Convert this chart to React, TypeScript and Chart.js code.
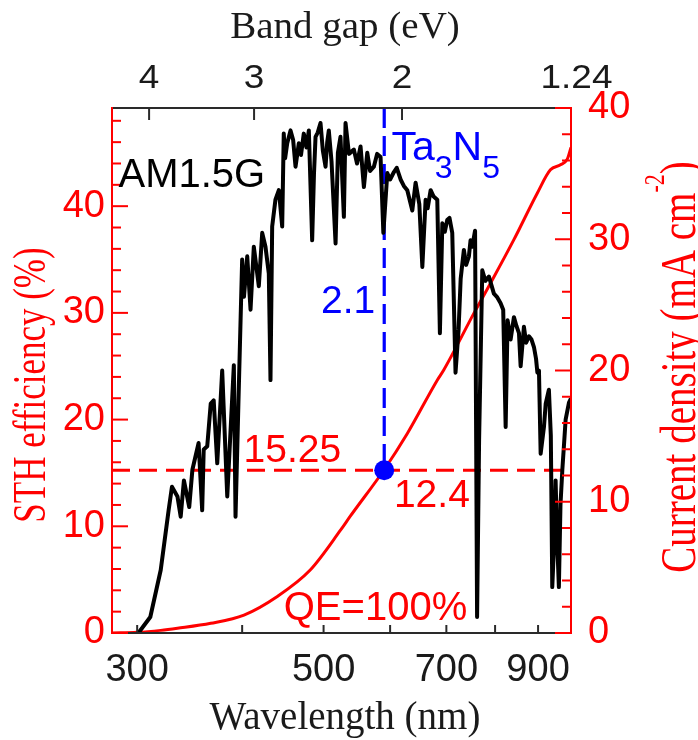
import React, { useEffect, useRef } from "react";
import { Chart, registerables } from "chart.js";

Chart.register(...registerables);

// ---- data ----
const SPEC_WL = [301, 311, 320, 327, 330, 335, 338, 341, 346, 349, 355, 358.5, 360, 363.5, 367, 370, 373.6, 378.7, 384, 387.5, 391, 392.8, 396, 400, 402, 405.6, 409.3, 413, 418.7, 422.6, 426.4, 430.3, 432.3, 434.3, 438.2, 442.3, 446.4, 448.3, 450, 452.6, 456.7, 460, 463, 467.2, 470, 473.6, 477, 480.2, 484.6, 487, 489.1, 492, 495.8, 499, 502.7, 505, 507.2, 511, 516.7, 520, 523.7, 528.6, 531, 536, 543.3, 548, 553.3, 558.4, 563.6, 568, 573.9, 579, 584.5, 589, 595.4, 600, 606.3, 611, 617.5, 623, 628.9, 637.6, 643.4, 650, 655.4, 661.3, 665, 670.5, 676, 682.8, 687.7, 692.3, 697, 701.6, 706, 711.4, 717.8, 723.8, 728, 734.4, 739, 744.6, 748, 751.5, 757.3, 761.5, 765.7, 772.4, 779, 786.6, 792, 797.4, 804, 812.2, 818, 823.5, 827.9, 834.8, 842.4, 848, 854.1, 858, 865.8, 871, 877.8, 884, 889.9, 895, 898.3, 902.2, 906.4, 914.6, 919, 927.1, 932, 935.7, 940, 944.3, 948, 952.8, 957, 961.9, 966, 970.6, 979.5, 985];
const SPEC_VAL = [0, 1.5, 5.9, 11.5, 13.7, 12.8, 10.9, 14.3, 11.8, 15.3, 17.8, 11.5, 17.2, 17.5, 21.5, 21.8, 15.9, 24.6, 12.8, 19.0, 25.1, 10.9, 21.8, 35.0, 31.5, 35.3, 30.3, 36.2, 32.5, 37.5, 36.2, 33.7, 23.7, 38.1, 40.6, 41.5, 38.1, 46.8, 44.5, 45.9, 47.1, 46.2, 43.7, 45.9, 44.8, 46.8, 45.5, 47.1, 36.8, 43.0, 46.5, 46.9, 47.8, 45.2, 43.7, 46.0, 47.1, 44.2, 36.5, 45.0, 46.5, 39.0, 47.8, 44.9, 45.3, 44.0, 45.6, 41.8, 45.0, 43.3, 43.7, 44.9, 44.6, 37.5, 43.1, 42.5, 43.2, 43.6, 42.5, 41.9, 41.5, 39.6, 42.2, 40.2, 34.3, 40.6, 39.8, 41.5, 40.9, 40.6, 28.1, 38.4, 37.6, 38.7, 38.9, 37.5, 24.4, 28.4, 33.2, 35.9, 34.5, 35.3, 36.8, 36.2, 37.7, 1.5, 18.1, 34.0, 33.0, 33.4, 32.6, 31.8, 31.5, 30.9, 30.3, 19.3, 29.3, 27.5, 29.6, 28.8, 28.1, 25.0, 28.7, 27.2, 27.8, 27.5, 26.8, 25.7, 24.4, 24.6, 16.8, 19.3, 21.5, 22.8, 18.5, 4.3, 8.0, 14.3, 9.0, 4.3, 12.0, 15.3, 17.5, 20.0, 21.6, 22.0];

const J_WL = [280, 300, 320, 335, 367, 402, 440, 482, 524, 538, 590, 629, 683, 695, 755, 790, 842, 898, 931, 957, 975, 985];
const J_VAL = [0, 0.05, 0.2, 0.36, 0.74, 1.37, 2.77, 4.8, 7.85, 8.9, 12.42, 15.2, 19.28, 20.04, 24.37, 26.65, 29.95, 33.51, 35.29, 35.67, 36.1, 37.0];

const X_MIN = 280;
const X_MAX = 985;
const STH_MAX = 49.2;
const J_MAX = 40;
const X_TICKS = [300, 400, 500, 600, 700, 800, 900];
const X_LABELED = [300, 500, 700, 900];
const EV_TICKS = [4, 3, 2, 1.24];
const EV_LABELS = ["4", "3", "2", "1.24"];
const LEFT_TICKS = [0, 10, 20, 30, 40];
const RIGHT_TICKS = [0, 10, 20, 30, 40];
const MINOR_STEP = 2;
const HC = 1239.84;
const GAP_EV = 2.1;
const J_POINT = 12.4;
const STH_POINT = 15.25;

const SANS = '"Liberation Sans", Arial, sans-serif';
const SERIF = '"Liberation Serif", "Times New Roman", serif';
const RED = "#ff0000";
const BLUE = "#0000ff";
const INK = "#1a1a1a";

function drawText(ctx: CanvasRenderingContext2D, s: string, x: number, y: number, font: string, color: string, align: CanvasTextAlign = "left", sy = 1) {
  ctx.save();
  ctx.font = font;
  ctx.fillStyle = color;
  ctx.textAlign = align;
  ctx.textBaseline = "alphabetic";
  ctx.translate(x, y);
  ctx.scale(1, sy);
  ctx.fillText(s, 0, 0);
  ctx.restore();
}

type Seg = { t: string; font: string; dy: number };

function drawSegs(ctx: CanvasRenderingContext2D, segs: Seg[], x: number, y: number, color: string) {
  ctx.save();
  ctx.fillStyle = color;
  ctx.textBaseline = "alphabetic";
  ctx.textAlign = "left";
  let cx = x;
  for (const s of segs) {
    ctx.font = s.font;
    ctx.fillText(s.t, cx, y + s.dy);
    cx += ctx.measureText(s.t).width;
  }
  ctx.restore();
}

function drawVertical(ctx: CanvasRenderingContext2D, segs: Seg[], xBase: number, cy: number, color: string, stretch: number) {
  ctx.save();
  ctx.translate(xBase, cy);
  ctx.rotate(-Math.PI / 2);
  ctx.scale(1, stretch);
  ctx.fillStyle = color;
  ctx.textBaseline = "alphabetic";
  ctx.textAlign = "left";
  let total = 0;
  for (const s of segs) {
    ctx.font = s.font;
    total += ctx.measureText(s.t).width;
  }
  let cx = -total / 2;
  for (const s of segs) {
    ctx.font = s.font;
    ctx.fillText(s.t, cx, s.dy);
    cx += ctx.measureText(s.t).width;
  }
  ctx.restore();
}

const decor = {
  id: "decor",
  afterDatasetsDraw(chart: any) {
    const { ctx, chartArea } = chart;
    const { left, right, top, bottom } = chartArea;
    const xs = chart.scales.x;
    const yl = chart.scales.y;
    const yr = chart.scales.y2;
    const seg = (x1: number, y1: number, x2: number, y2: number) => {
      ctx.beginPath();
      ctx.moveTo(x1, y1);
      ctx.lineTo(x2, y2);
      ctx.stroke();
    };
    ctx.save();
    ctx.lineCap = "butt";
    ctx.lineWidth = 2;
    // frame
    ctx.strokeStyle = "#2a2a2a";
    seg(left, top, right, top);
    seg(left, bottom, right, bottom);
    ctx.strokeStyle = RED;
    seg(left, top - 1, left, bottom + 1);
    seg(right, top - 1, right, bottom + 1);
    // bottom ticks (inward)
    ctx.strokeStyle = "#2a2a2a";
    for (const v of X_TICKS) {
      const px = xs.getPixelForValue(v);
      seg(px, bottom, px, bottom - 8);
    }
    // top ticks (band gap)
    for (const ev of EV_TICKS) {
      const wl = HC / ev;
      if (wl > X_MAX) continue;
      const px = xs.getPixelForValue(wl);
      seg(px, top, px, top + 12);
    }
    // left & right ticks
    ctx.strokeStyle = RED;
    for (let v = 0; v <= STH_MAX + 1e-6; v += MINOR_STEP) {
      const py = yl.getPixelForValue(v);
      const major = LEFT_TICKS.includes(v);
      seg(left, py, left + (major ? 16 : 9), py);
    }
    for (let v = 0; v <= J_MAX + 1e-6; v += MINOR_STEP) {
      const py = yr.getPixelForValue(v);
      const major = RIGHT_TICKS.includes(v);
      seg(right, py, right - (major ? 16 : 9), py);
    }
    ctx.restore();

    // annotations
    const gapWl = HC / GAP_EV;
    drawText(ctx, "AM1.5G", xs.getPixelForValue(285), yl.getPixelForValue(41.8), `40px ${SANS}`, "#000");
    const taX = xs.getPixelForValue(602.3);
    const taY = yl.getPixelForValue(44.3);
    drawSegs(ctx, [
      { t: "Ta", font: `41px ${SANS}`, dy: 0 },
      { t: "3", font: `32px ${SANS}`, dy: 18 },
      { t: "N", font: `41px ${SANS}`, dy: 0 },
      { t: "5", font: `32px ${SANS}`, dy: 18 },
    ], taX, taY, BLUE);
    drawText(ctx, String(GAP_EV), xs.getPixelForValue(gapWl) - 9, yl.getPixelForValue(30.0), `39px ${SANS}`, BLUE, "right");
    drawText(ctx, String(STH_POINT), xs.getPixelForValue(401.5), yl.getPixelForValue(16.05), `39px ${SANS}`, RED);
    drawText(ctx, String(J_POINT), xs.getPixelForValue(606.3), yl.getPixelForValue(11.84), `39px ${SANS}`, RED);
    drawText(ctx, "QE=100%", xs.getPixelForValue(448.3), yl.getPixelForValue(1.22), `40px ${SANS}`, RED);
  },
  afterDraw(chart: any) {
    const { ctx } = chart;
    const xs = chart.scales.x;
    // top band-gap labels
    EV_TICKS.forEach((ev, i) => {
      const px = xs.getPixelForValue(HC / ev);
      drawText(ctx, EV_LABELS[i], px, 88, `37px ${SANS}`, INK, "center", 0.88);
    });
    drawText(ctx, "Band gap (eV)", 345, 38, `39px ${SERIF}`, INK, "center", 0.95);
    drawText(ctx, "Wavelength (nm)", 345, 729, `39px ${SERIF}`, INK, "center");
    drawVertical(ctx, [{ t: "STH efficiency (%)", font: `35px ${SERIF}`, dy: 0 }], 45, 385, RED, 1.3);
    drawVertical(ctx, [
      { t: "Current density (mA cm", font: `39px ${SERIF}`, dy: 0 },
      { t: "-2", font: `22px ${SERIF}`, dy: -24 },
      { t: ")", font: `39px ${SERIF}`, dy: 0 },
    ], 695, 367, RED, 1.3);
  },
};

export default function App() {
  const ref = useRef<HTMLCanvasElement>(null);
  useEffect(() => {
    const canvas = ref.current;
    if (!canvas) return;
    const gapWl = HC / GAP_EV;
    const tickFont = { family: SANS, size: 38 };
    const chart = new Chart(canvas, {
      type: "scatter",
      data: {
        datasets: [
          {
            label: "point",
            data: [{ x: gapWl, y: J_POINT }],
            yAxisID: "y2",
            showLine: false,
            pointRadius: 10,
            pointBackgroundColor: BLUE,
            pointBorderColor: BLUE,
            pointBorderWidth: 0,
            order: 0,
          },
          {
            label: "AM1.5G",
            data: SPEC_WL.map((x, i) => ({ x, y: SPEC_VAL[i] })),
            yAxisID: "y",
            showLine: true,
            borderColor: "#000",
            borderWidth: 4,
            pointRadius: 0,
            tension: 0,
            borderJoinStyle: "round",
            order: 1,
          },
          {
            label: "J",
            data: J_WL.map((x, i) => ({ x, y: J_VAL[i] })),
            yAxisID: "y2",
            showLine: true,
            borderColor: RED,
            borderWidth: 3,
            pointRadius: 0,
            cubicInterpolationMode: "monotone",
            order: 2,
          },
          {
            label: "hline",
            data: [{ x: X_MIN, y: STH_POINT }, { x: X_MAX, y: STH_POINT }],
            yAxisID: "y",
            showLine: true,
            borderColor: RED,
            borderWidth: 3.2,
            borderDash: [18, 9],
            pointRadius: 0,
            order: 3,
          },
          {
            label: "vline",
            data: [{ x: gapWl, y: STH_MAX }, { x: gapWl, y: STH_POINT }],
            yAxisID: "y",
            showLine: true,
            borderColor: BLUE,
            borderWidth: 3.2,
            borderDash: [20, 8],
            pointRadius: 0,
            order: 3,
          },
        ],
      },
      options: {
        responsive: false,
        animation: false,
        devicePixelRatio: 1,
        layout: { padding: { top: 108, left: 0, right: 0, bottom: 0 } },
        plugins: { legend: { display: false }, tooltip: { enabled: false } },
        scales: {
          x: {
            type: "logarithmic",
            position: "bottom",
            min: X_MIN,
            max: X_MAX,
            grid: { display: false, drawTicks: false },
            border: { display: false },
            afterBuildTicks: (s: any) => {
              s.ticks = X_LABELED.map((v) => ({ value: v }));
            },
            afterFit: (s: any) => {
              s.height = 107;
            },
            ticks: {
              autoSkip: false,
              maxRotation: 0,
              color: INK,
              font: tickFont,
              padding: 15,
              callback: (v: any) => String(v),
            },
          },
          y: {
            type: "linear",
            position: "left",
            min: 0,
            max: STH_MAX,
            grid: { display: false, drawTicks: false },
            border: { display: false },
            afterBuildTicks: (s: any) => {
              s.ticks = LEFT_TICKS.map((v) => ({ value: v }));
            },
            afterFit: (s: any) => {
              s.width = 112;
            },
            ticks: { color: RED, font: tickFont, padding: 7 },
          },
          y2: {
            type: "linear",
            position: "right",
            min: 0,
            max: J_MAX,
            grid: { display: false, drawTicks: false },
            border: { display: false },
            afterBuildTicks: (s: any) => {
              s.ticks = RIGHT_TICKS.map((v) => ({ value: v }));
            },
            afterFit: (s: any) => {
              s.width = 127;
            },
            ticks: { color: RED, font: tickFont, padding: 17 },
          },
        },
      } as any,
      plugins: [decor],
    });
    return () => chart.destroy();
  }, []);
  return (
    <div style={{ position: "fixed", left: 0, top: 0, width: 698, height: 740, background: "#fff" }}>
      <canvas ref={ref} width={698} height={740} style={{ display: "block", width: 698, height: 740 }} />
    </div>
  );
}
